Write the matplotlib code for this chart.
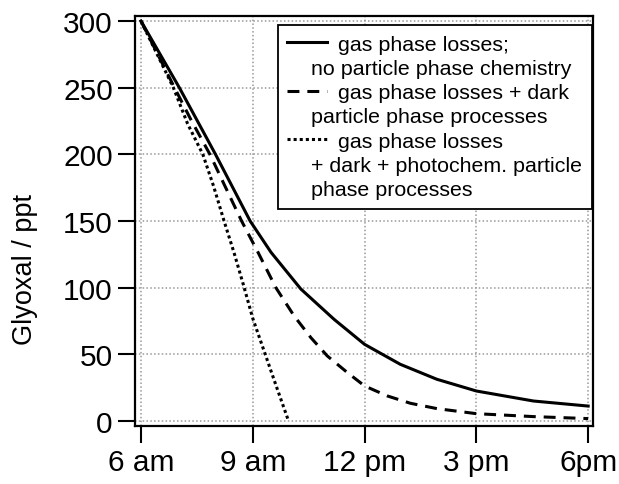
import matplotlib
matplotlib.use('Agg')
import matplotlib.pyplot as plt
from matplotlib.lines import Line2D
from matplotlib.offsetbox import AnchoredOffsetbox, VPacker, HPacker, DrawingArea, TextArea

plt.rcParams['font.family'] = ['Liberation Sans', 'DejaVu Sans']

# hours of the day vs glyoxal (ppt)
solid_t = [6, 7.03, 8.0, 8.93, 9.49, 10.29, 11.18, 12.0, 12.96, 13.94, 15.0, 16.53, 18.0]
solid_v = [300, 250, 200, 150, 126.5, 99, 76.3, 57.5, 42.5, 31.3, 22.5, 15, 11.2]

dashed_t = [6, 6.9, 7.34, 7.85, 8.24, 8.7, 9.15, 9.62, 10.11, 10.56, 11.0, 11.54,
            12.0, 12.61, 13.23, 13.94, 15.0, 16.53, 18.0]
dashed_v = [300, 250, 226, 200, 177, 150, 126, 100, 78.8, 62.5, 48.8, 36.3,
            26.3, 18.8, 13.3, 9.3, 5.5, 3.3, 1.8]

dotted_t = [6, 6.87, 7.25, 7.66, 7.95, 8.23, 8.5, 8.75, 9.0, 9.31, 9.62, 9.96]
dotted_v = [300, 250, 223, 200, 176, 150, 126, 102, 77, 52, 27, 0]

xticks = [6, 9, 12, 15, 18]
xticklabels = ['6 am', '9 am', '12 pm', '3 pm', '6pm']
yticks = [0, 50, 100, 150, 200, 250, 300]

dash_style = (0, (3.9, 2.6))
dot_style = (0, (1.0, 1.0))

# legend rows: (linestyle or None for continuation line, text)
legend_rows = [
    ('-', 'gas phase losses;'),
    (None, 'no particle phase chemistry'),
    (dash_style, 'gas phase losses + dark'),
    (None, 'particle phase processes'),
    (dot_style, 'gas phase losses'),
    (None, '+ dark + photochem. particle'),
    (None, 'phase processes'),
]

fig = plt.figure(figsize=(6.19, 4.85), dpi=100)
ax = fig.add_axes([135/619, 58/485, 458/619, 410/485])

ax.plot(solid_t, solid_v, color='k', lw=2.2, linestyle='-')
ax.plot(dashed_t, dashed_v, color='k', lw=2.2, linestyle=dash_style)
ax.plot(dotted_t, dotted_v, color='k', lw=2.2, linestyle=dot_style)

ax.set_xlim(5.84, 18.13)
ax.set_ylim(-3.75, 303.75)
ax.set_xticks(xticks)
ax.set_xticklabels(xticklabels)
ax.set_yticks(yticks)

ax.set_axisbelow(True)
ax.grid(True, color='#999999', linestyle=(0, (1, 1.5)), linewidth=1.1)

for s in ax.spines.values():
    s.set_linewidth(1.6)
ax.tick_params(direction='out', length=12, width=1.5, labelsize=21.5, pad=4)

ax.set_ylabel('Glyoxal / ppt', fontsize=19.5)
ax.yaxis.set_label_coords(-0.212, 0.383)

# legend with indented continuation lines
rows = []
for ls, txt in legend_rows:
    if ls is None:
        da = DrawingArea(17.3, 11, 0, 0)
    else:
        da = DrawingArea(36.7, 11, 0, 0)
        da.add_artist(Line2D([0, 28.8], [5.5, 5.5], color='k', lw=2.2, linestyle=ls))
    ta = TextArea(txt, textprops=dict(fontsize=15.4))
    rows.append(HPacker(children=[da, ta], pad=0, sep=0, align='baseline'))
box = VPacker(children=rows, align='left', pad=0, sep=3.5)
ab = AnchoredOffsetbox(loc='upper right', child=box, pad=0.7, borderpad=0,
                       frameon=True, prop=dict(size=10),
                       bbox_to_anchor=(0.998, 0.978), bbox_transform=ax.transAxes)
ab.patch.set_linewidth(1.3)
ab.patch.set_edgecolor('k')
ab.patch.set_facecolor('white')
ax.add_artist(ab)

fig.savefig('out.png', dpi=100)
